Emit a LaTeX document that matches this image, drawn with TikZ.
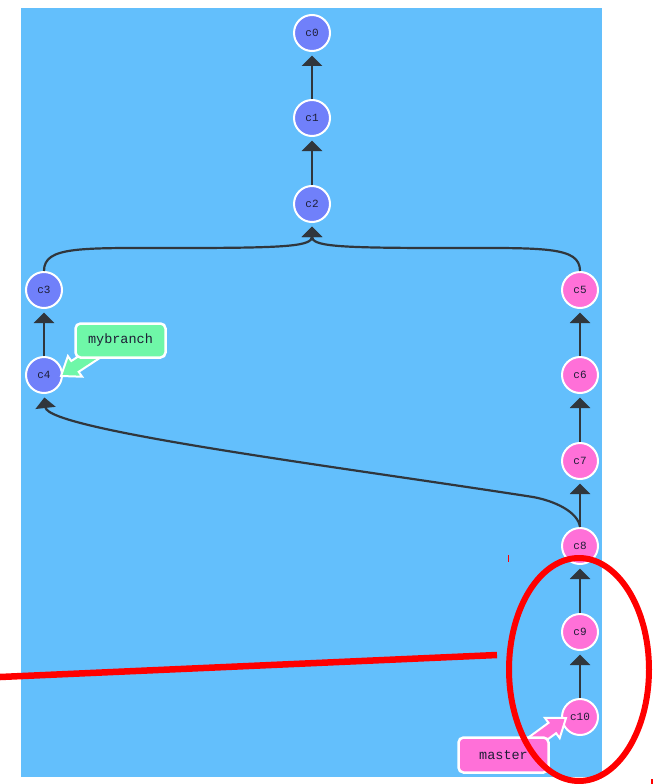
\documentclass[tikz,border=0pt]{standalone}
\usepackage{fontspec}
\newfontfamily\monof{Liberation Mono}
\usetikzlibrary{arrows.meta}
\definecolor{bgc}{HTML}{63BFFC}
\definecolor{bluec}{HTML}{7080FA}
\definecolor{pinkc}{HTML}{FF70D8}
\definecolor{greenc}{HTML}{6FF7A8}
\definecolor{edgec}{HTML}{30363C}
\definecolor{txtc}{HTML}{1E1E36}
\definecolor{redc}{HTML}{FF0000}
\tikzset{
  commit/.style={circle, minimum size=36pt, inner sep=0pt, draw=white, line width=2pt,
    text=txtc, font=\monof\fontsize{11}{11}\selectfont},
  bluecommit/.style={commit, fill=bluec},
  pinkcommit/.style={commit, fill=pinkc},
  edge/.style={draw=edgec, line width=2.2pt, -{Triangle[width=20pt,length=10.5pt]}, shorten >=3.5pt},
  tagbox/.style={rectangle, rounded corners=5pt, draw=white, line width=2.5pt, text=txtc,
    minimum width=90pt, minimum height=34pt, inner sep=0pt, font=\monof\fontsize{13.5}{14}\selectfont},
  tagarrow/.style={draw=white, line width=2pt, line join=miter},
  redmark/.style={draw=redc, line width=6.5pt}
}
\begin{document}
\begin{tikzpicture}[x=1pt,y=-1pt]
\useasboundingbox (0,0) rectangle (655,784);
\fill[bgc] (21,8) rectangle (602,777);

% commits
\node[bluecommit] (c0) at (312,33) {c0};
\node[bluecommit] (c1) at (312,118) {c1};
\node[bluecommit] (c2) at (312,204) {c2};
\node[bluecommit] (c3) at (44,290) {c3};
\node[bluecommit] (c4) at (44,375) {c4};
\node[pinkcommit] (c5) at (580,290) {c5};
\node[pinkcommit] (c6) at (580,375) {c6};
\node[pinkcommit] (c7) at (580,461) {c7};
\node[pinkcommit] (c8) at (580,546) {c8};
\node[pinkcommit] (c9) at (580,632) {c9};
\node[pinkcommit] (c10) at (580,717) {c10};

% edges
\draw[edge] (c1) -- (c0);
\draw[edge] (c2) -- (c1);
\draw[edge] (c4) -- (c3);
\draw[edge] (c6) -- (c5);
\draw[edge] (c7) -- (c6);
\draw[edge] (c8) -- (c7);
\draw[edge] (c9) -- (c8);
\draw[edge] (c10) -- (c9);
\draw[edge] (c3.north) .. controls (44,246) and (80,248) .. (180,248)
  .. controls (290,248) and (312,246) .. (c2.south);
\draw[edge] (c5.north) .. controls (580,246) and (544,248) .. (444,248)
  .. controls (334,248) and (312,246) .. (c2.south);
\draw[edge] (c8.north) .. controls (578,512) and (555,501) .. (533,497)
  .. controls (340,467) and (48,430) .. (c4.south);

% branch tags
\filldraw[tagarrow, fill=greenc] (103.7,355.4) -- (78.7,371.8) -- (82.1,376.7) -- (61,376)
  -- (67.9,356.1) -- (71.3,361.0) -- (96.3,344.6) -- cycle;
\node[tagbox, fill=greenc] (mybranch) at (120.5,340.5) {mybranch};

\filldraw[tagarrow, fill=pinkc] (528.8,753.2) -- (556.1,733.2) -- (559.7,738.1) -- (566,718)
  -- (544.9,717.9) -- (548.5,722.8) -- (521.2,742.8) -- cycle;
\node[tagbox, fill=pinkc, minimum height=35pt] (master) at (503.5,755) {master};

% red annotation
\draw[redmark] (0,677) -- (497,655);
\draw[draw=redc, line width=6pt] (579,669.5) ellipse [x radius=70, y radius=111.5];
\draw[draw=redc, line width=1.4pt] (508.5,555) -- (508.5,562);
\draw[draw=redc, line width=1.4pt] (652,779) -- (652,784);
\end{tikzpicture}
\end{document}
